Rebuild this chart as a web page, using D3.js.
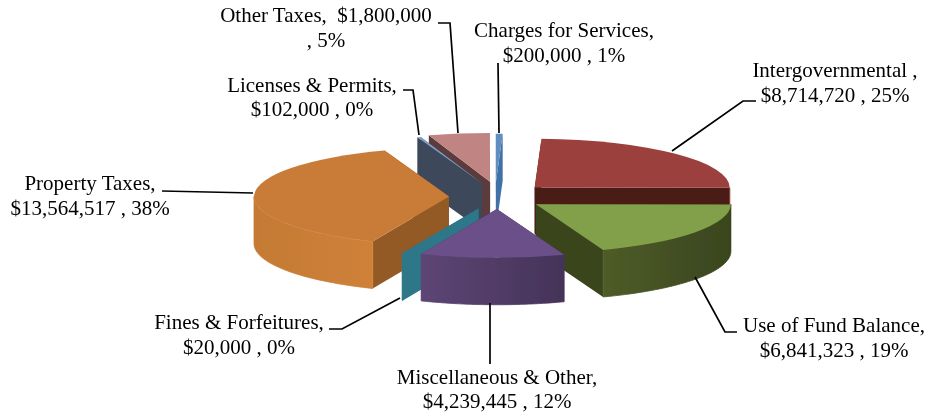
<!DOCTYPE html>
<html><head><meta charset="utf-8">
<script src="https://cdn.jsdelivr.net/npm/d3@7/dist/d3.min.js"></script>
<style>html,body{margin:0;background:#fff}svg{display:block}text{font-family:"Liberation Serif",serif;font-size:21px;fill:#000}</style>
</head><body><svg id="c" width="930" height="418"></svg>
<script>
const categories=["Intergovernmental","Use of Fund Balance","Miscellaneous & Other","Fines & Forfeitures","Property Taxes","Licenses & Permits","Other Taxes","Charges for Services"];
const amounts=[8714720,6841323,4239445,20000,13564517,102000,1800000,200000];
const percents=["25%","19%","12%","0%","38%","0%","5%","1%"];
const topColors=["#9c403d","#82a04a","#6a5088","#2d7788","#c97b37","#7f9fc8","#c08482","#5f8ebf"];
const sideColors=["#4a1a18","#3a451e","#4a3862","#2d7788","#945a28","#3c485a","#5c3b3e","#3f72a8"];
const curveStart=["#8c3a38","#4e5c28","#5d4575","#2d7788","#c47a35","#3c485a","#a87070","#3f72a8"];
const curveEnd=["#8c3a38","#3a451e","#453358","#2d7788","#cf8138","#3c485a","#a87070","#3f72a8"];
const explode=[55,50,48,50,47,50,50,50];
const nudgeX=[0,0,3,3,1,3,3,0];
const nudgeY=[0,0,0,0,0,-2,-3,-2];
const drawOrder=[6,5,7,4,0,3,1,2];
const leaders=[[[672,151],[743,101],[756,101]],[[695,277],[725,332],[737,332]],[[490,303],[490,364]],[[400,298],[342,329],[329,329]],[[253,193],[162,191]],[[419,135],[413,90],[403,90]],[[458,133],[450,23],[438,23]],[[499,133],[498,63]]];
const labelAt=[[835,77],[834,332],[497,384],[239,329],[90,190],[312,92],[326,22],[564,37]];
const lineGap=[25,25,24,25,25,24,25,25];
const labelLines=[["Intergovernmental ,","$8,714,720 , 25%"],["Use of Fund Balance,","$6,841,323 , 19%"],["Miscellaneous & Other,","$4,239,445 , 12%"],["Fines & Forfeitures,","$20,000 , 0%"],["Property Taxes,","$13,564,517 , 38%"],["Licenses & Permits,","$102,000 , 0%"],["Other Taxes,  $1,800,000",", 5%"],["Charges for Services,","$200,000 , 1%"]];
const CX=495,CY=197,RX=195,SQ=0.25,DEPTH=47,ROT=2*Math.PI/180;
const svg=d3.select("#c");
const defs=svg.append("defs");
defs.append("filter").attr("id","soft").append("feGaussianBlur").attr("stdDeviation",0.7);
const pie=d3.pie().sort(null).startAngle(ROT).endAngle(ROT+2*Math.PI);
const arcs=pie(amounts);
const arcGen=d3.arc().innerRadius(0).outerRadius(RX);
const line=d3.line();
const gPie=svg.append("g").attr("filter","url(#soft)");
drawOrder.forEach(i=>{
  const a=arcs[i],mid=(a.startAngle+a.endAngle)/2;
  const cx=CX+explode[i]*Math.sin(mid)+nudgeX[i],cy=CY-explode[i]*Math.cos(mid)*SQ+nudgeY[i];
  const P=(t,d=0)=>[cx+RX*Math.sin(t),cy-RX*Math.cos(t)*SQ+d];
  const wall=t=>line([[cx,cy],P(t),P(t,DEPTH),[cx,cy+DEPTH]])+"Z";
  const g=gPie.append("g");
  g.append("path").attr("d",wall(a.startAngle)).attr("fill",sideColors[i]);
  g.append("path").attr("d",wall(a.endAngle)).attr("fill",sideColors[i]);
  const t0=Math.max(a.startAngle,Math.PI/2),t1=Math.min(a.endAngle,3*Math.PI/2);
  if(t1>t0){
    const ts=d3.range(0,41).map(k=>t0+(t1-t0)*k/40);
    const id="grad"+i;
    const lg=defs.append("linearGradient").attr("id",id).attr("gradientUnits","userSpaceOnUse")
      .attr("x1",P(t1)[0]).attr("x2",P(t0)[0]).attr("y1",0).attr("y2",0);
    lg.append("stop").attr("offset",0).attr("stop-color",curveStart[i]);
    lg.append("stop").attr("offset",1).attr("stop-color",curveEnd[i]);
    g.append("path").attr("d",line(ts.map(t=>P(t)).concat(ts.slice().reverse().map(t=>P(t,DEPTH))))+"Z").attr("fill","url(#"+id+")").attr("stroke","url(#"+id+")").attr("stroke-width",0.8);
  }
  g.append("path").attr("transform",`translate(${cx},${cy}) scale(1,${SQ})`).attr("d",arcGen(a)).attr("fill",topColors[i]);
});
const gLead=svg.append("g");
leaders.forEach(p=>gLead.append("path").attr("d",line(p)).attr("fill","none").attr("stroke","#000").attr("stroke-width",1.7));
labelLines.forEach((ls,i)=>{
  const [x,y]=labelAt[i];
  const t=svg.append("text").attr("text-anchor","middle").attr("xml:space","preserve");
  ls.forEach((s,k)=>t.append("tspan").attr("x",x).attr("y",y+k*lineGap[i]).text(s));
});
</script></body></html>
